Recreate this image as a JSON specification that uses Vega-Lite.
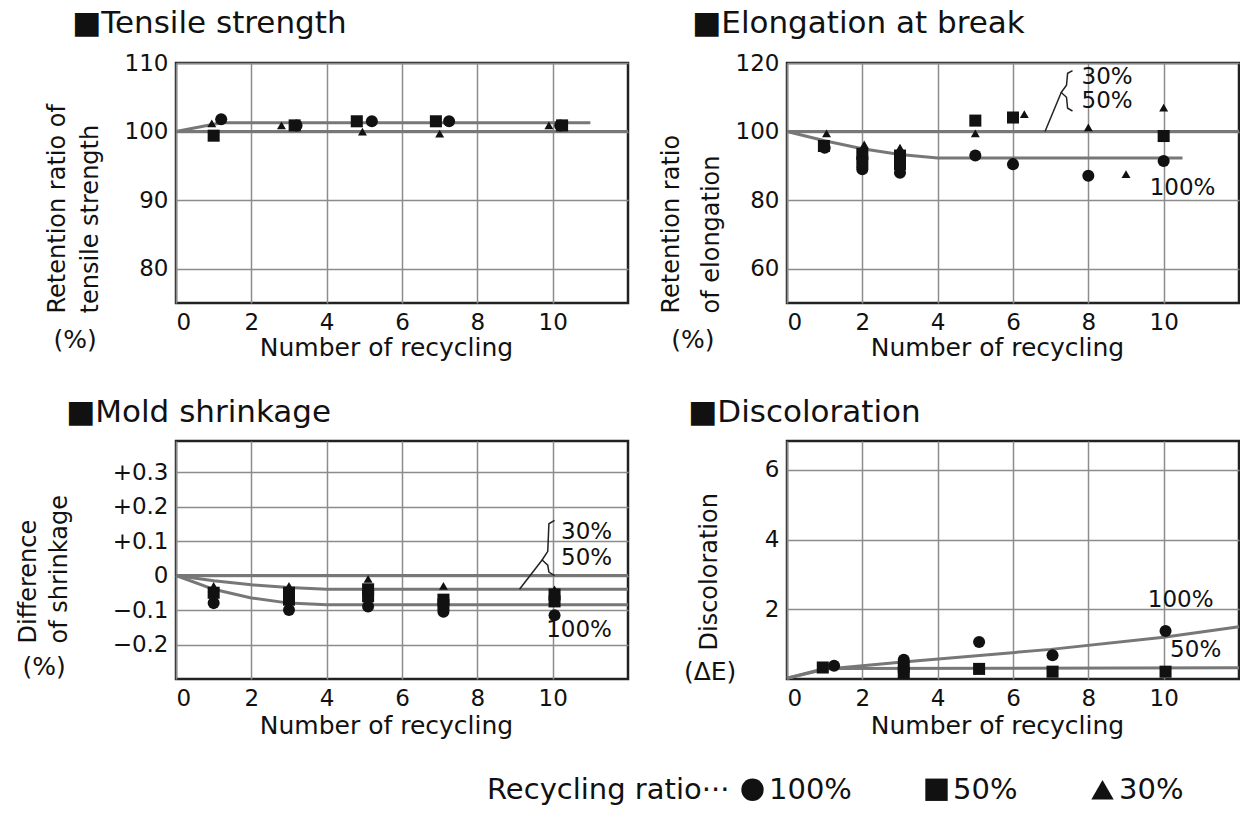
{
  "$schema": "https://vega.github.io/schema/vega-lite/v6.json",
  "padding": {"left": 14, "top": 6, "right": 0, "bottom": 4},
  "background": "white",
  "bounds": "flush",
  "spacing": 378,
  "resolve": {"scale": {"shape": "shared"}, "legend": {"shape": "shared"}},
  "config": {
    "font": "DejaVu Sans",
    "view": {"stroke": "#222", "strokeWidth": 2.5},
    "axis": {"grid": true, "gridColor": "#8c8c8c", "gridWidth": 1.5, "domain": false, "ticks": false, "labelFontSize": 23, "labelColor": "#111", "titleFontSize": 24, "titleFontWeight": "normal", "titleColor": "#111", "labelPadding": 8},
    "title": {"fontSize": 31, "fontWeight": "normal", "anchor": "start", "frame": "group", "color": "#111", "baseline": "alphabetic", "offset": 12},
    "legend": {"orient": "none", "legendX": 311, "legendY": 712, "direction": "horizontal", "titleOrient": "left", "titleFontSize": 29, "titleFontWeight": "normal", "titleLimit": 600, "labelLimit": 300, "labelFontSize": 29, "symbolSize": 500, "symbolFillColor": "#111", "symbolStrokeColor": "#111", "columnPadding": 70, "labelOffset": 2, "titlePadding": 8, "titleColor": "#111", "labelColor": "#111"}
  },
  "datasets": {
    "t_pts": [
      {"r": "100%", "x": 1.2, "y": 101.8}, {"r": "100%", "x": 3.2, "y": 100.9}, {"r": "100%", "x": 5.2, "y": 101.5}, {"r": "100%", "x": 7.25, "y": 101.5}, {"r": "100%", "x": 10.2, "y": 100.9},
      {"r": "50%", "x": 1.0, "y": 99.4}, {"r": "50%", "x": 3.15, "y": 100.9}, {"r": "50%", "x": 4.8, "y": 101.5}, {"r": "50%", "x": 6.9, "y": 101.5}, {"r": "50%", "x": 10.25, "y": 100.9},
      {"r": "30%", "x": 0.95, "y": 101.2}, {"r": "30%", "x": 2.8, "y": 100.9}, {"r": "30%", "x": 4.95, "y": 100.0}, {"r": "30%", "x": 7.0, "y": 99.7}, {"r": "30%", "x": 9.9, "y": 100.9}
    ],
    "t_lines": [
      {"s": "a", "o": 0, "x": 0, "y": 100}, {"s": "a", "o": 1, "x": 1.2, "y": 101.3}, {"s": "a", "o": 2, "x": 11, "y": 101.3},
      {"s": "b", "o": 0, "x": 0, "y": 100}, {"s": "b", "o": 1, "x": 12, "y": 100}
    ],
    "t_text": [{"x": -2.68, "y": 69.6, "t": "(%)"}],
    "e_pts": [
      {"r": "100%", "x": 1.0, "y": 95.3}, {"r": "100%", "x": 2.0, "y": 89.0}, {"r": "100%", "x": 3.0, "y": 88.0}, {"r": "100%", "x": 5.0, "y": 93.0}, {"r": "100%", "x": 6.0, "y": 90.5}, {"r": "100%", "x": 8.0, "y": 87.1}, {"r": "100%", "x": 10.0, "y": 91.4},
      {"r": "50%", "x": 0.98, "y": 95.8}, {"r": "50%", "x": 2.0, "y": 93.5}, {"r": "50%", "x": 2.0, "y": 91.0}, {"r": "50%", "x": 3.0, "y": 93.0}, {"r": "50%", "x": 3.0, "y": 90.5}, {"r": "50%", "x": 5.0, "y": 103.2}, {"r": "50%", "x": 6.0, "y": 104.1}, {"r": "50%", "x": 10.0, "y": 98.7},
      {"r": "30%", "x": 1.05, "y": 99.5}, {"r": "30%", "x": 2.05, "y": 96.3}, {"r": "30%", "x": 3.0, "y": 95.3}, {"r": "30%", "x": 5.0, "y": 99.5}, {"r": "30%", "x": 6.3, "y": 105.1}, {"r": "30%", "x": 8.0, "y": 101.2}, {"r": "30%", "x": 9.0, "y": 87.6}, {"r": "30%", "x": 10.0, "y": 107.0}
    ],
    "e_lines": [
      {"s": "a", "o": 0, "x": 0, "y": 100}, {"s": "a", "o": 1, "x": 12, "y": 100},
      {"s": "b", "o": 0, "x": 0, "y": 100}, {"s": "b", "o": 1, "x": 1, "y": 97.3}, {"s": "b", "o": 2, "x": 2, "y": 95}, {"s": "b", "o": 3, "x": 3, "y": 93.3}, {"s": "b", "o": 4, "x": 4, "y": 92.3}, {"s": "b", "o": 5, "x": 10.5, "y": 92.3}
    ],
    "e_ann": [
      {"s": "br", "o": 0, "x": 7.58, "y": 117.8}, {"s": "br", "o": 1, "x": 7.45, "y": 117}, {"s": "br", "o": 2, "x": 7.42, "y": 113.5}, {"s": "br", "o": 3, "x": 7.28, "y": 111.4}, {"s": "br", "o": 4, "x": 7.42, "y": 110}, {"s": "br", "o": 5, "x": 7.45, "y": 106.8}, {"s": "br", "o": 6, "x": 7.58, "y": 106},
      {"s": "ld", "o": 0, "x": 7.28, "y": 111.4}, {"s": "ld", "o": 1, "x": 6.85, "y": 100}
    ],
    "e_text": [{"x": 8.5, "y": 116.0, "t": "30%", "f": 23}, {"x": 8.5, "y": 108.8, "t": "50%", "f": 23}, {"x": 10.5, "y": 83.6, "t": "100%", "f": 23}, {"x": -2.5, "y": 39.2, "t": "(%)", "f": 25}],
    "s_pts": [
      {"r": "100%", "x": 1.0, "y": -0.08}, {"r": "100%", "x": 3.0, "y": -0.1}, {"r": "100%", "x": 5.1, "y": -0.09}, {"r": "100%", "x": 7.1, "y": -0.105}, {"r": "100%", "x": 10.05, "y": -0.115},
      {"r": "50%", "x": 1.0, "y": -0.05}, {"r": "50%", "x": 3.0, "y": -0.07}, {"r": "50%", "x": 3.0, "y": -0.05}, {"r": "50%", "x": 5.1, "y": -0.06}, {"r": "50%", "x": 5.1, "y": -0.04}, {"r": "50%", "x": 7.1, "y": -0.085}, {"r": "50%", "x": 7.1, "y": -0.07}, {"r": "50%", "x": 10.05, "y": -0.075}, {"r": "50%", "x": 10.05, "y": -0.055},
      {"r": "30%", "x": 1.0, "y": -0.03}, {"r": "30%", "x": 3.0, "y": -0.03}, {"r": "30%", "x": 5.1, "y": -0.01}, {"r": "30%", "x": 7.1, "y": -0.03}, {"r": "30%", "x": 10.05, "y": -0.04}
    ],
    "s_lines": [
      {"s": "z", "o": 0, "x": 0, "y": 0}, {"s": "z", "o": 1, "x": 12, "y": 0},
      {"s": "a", "o": 0, "x": 0, "y": 0}, {"s": "a", "o": 1, "x": 1, "y": -0.015}, {"s": "a", "o": 2, "x": 2, "y": -0.027}, {"s": "a", "o": 3, "x": 3, "y": -0.035}, {"s": "a", "o": 4, "x": 4, "y": -0.04}, {"s": "a", "o": 5, "x": 12, "y": -0.04},
      {"s": "b", "o": 0, "x": 0, "y": 0}, {"s": "b", "o": 1, "x": 1, "y": -0.04}, {"s": "b", "o": 2, "x": 2, "y": -0.065}, {"s": "b", "o": 3, "x": 3, "y": -0.08}, {"s": "b", "o": 4, "x": 4, "y": -0.085}, {"s": "b", "o": 5, "x": 12, "y": -0.085}
    ],
    "s_ann": [
      {"s": "br", "o": 0, "x": 10.05, "y": 0.16}, {"s": "br", "o": 1, "x": 9.9, "y": 0.15}, {"s": "br", "o": 2, "x": 9.87, "y": 0.07}, {"s": "br", "o": 3, "x": 9.72, "y": 0.045}, {"s": "br", "o": 4, "x": 9.87, "y": 0.03}, {"s": "br", "o": 5, "x": 9.9, "y": 0.01}, {"s": "br", "o": 6, "x": 10.05, "y": 0.0},
      {"s": "ld", "o": 0, "x": 9.72, "y": 0.045}, {"s": "ld", "o": 1, "x": 9.12, "y": -0.04}
    ],
    "s_text": [{"x": 10.9, "y": 0.125, "t": "30%", "f": 23}, {"x": 10.9, "y": 0.05, "t": "50%", "f": 23}, {"x": 10.7, "y": -0.157, "t": "100%", "f": 23}, {"x": -3.5, "y": -0.265, "t": "(%)", "f": 25}],
    "d_pts": [
      {"r": "100%", "x": 1.25, "y": 0.38}, {"r": "100%", "x": 3.1, "y": 0.55}, {"r": "100%", "x": 5.1, "y": 1.06}, {"r": "100%", "x": 7.05, "y": 0.68}, {"r": "100%", "x": 10.05, "y": 1.38},
      {"r": "50%", "x": 0.95, "y": 0.33}, {"r": "50%", "x": 3.1, "y": 0.35}, {"r": "50%", "x": 3.1, "y": 0.18}, {"r": "50%", "x": 5.1, "y": 0.29}, {"r": "50%", "x": 7.05, "y": 0.21}, {"r": "50%", "x": 10.05, "y": 0.21}
    ],
    "d_lines": [
      {"s": "a", "o": 0, "x": 0, "y": 0.02}, {"s": "a", "o": 1, "x": 1, "y": 0.28}, {"s": "a", "o": 2, "x": 3, "y": 0.48}, {"s": "a", "o": 3, "x": 7, "y": 0.85}, {"s": "a", "o": 4, "x": 10, "y": 1.2}, {"s": "a", "o": 5, "x": 12, "y": 1.5},
      {"s": "b", "o": 0, "x": 0, "y": 0.02}, {"s": "b", "o": 1, "x": 1, "y": 0.3}, {"s": "b", "o": 2, "x": 12, "y": 0.32}
    ],
    "d_text": [{"x": 10.45, "y": 2.27, "t": "100%", "f": 23}, {"x": 10.85, "y": 0.82, "t": "50%", "f": 23}, {"x": -2.04, "y": 0.2, "t": "(ΔE)", "f": 25}]
  },
  "vconcat": [
    {
      "bounds": "flush",
      "spacing": 159,
      "resolve": {"scale": {"shape": "shared"}},
      "hconcat": [
        {
          "width": 452, "height": 240,
          "title": {"text": "■Tensile strength", "dx": -104},
          "encoding": {
            "x": {"field": "x", "type": "quantitative", "scale": {"domain": [0, 12], "nice": false, "zero": false}, "axis": {"values": [0, 2, 4, 6, 8, 10], "title": "Number of recycling", "titleFontSize": 25, "titleX": 210, "titleY": 44, "titleBaseline": "middle", "titleAlign": "center"}},
            "y": {"field": "y", "type": "quantitative", "scale": {"domain": [75, 110], "nice": false, "zero": false}, "axis": {"values": [80, 90, 100, 110], "title": ["Retention ratio of", "tensile strength"], "titleAngle": -90, "titleAlign": "left", "titleBaseline": "top", "titleX": -131, "titleY": 250, "titleLineHeight": 33}}
          },
          "layer": [
            {"data": {"name": "t_lines"}, "mark": {"type": "line", "color": "#777", "strokeWidth": 3}, "encoding": {"detail": {"field": "s"}, "order": {"field": "o"}}},
            {"data": {"name": "t_pts"}, "mark": {"type": "point", "filled": true, "opacity": 1, "color": "#111"}, "encoding": {
              "shape": {"field": "r", "type": "nominal", "title": "Recycling ratio···", "scale": {"domain": ["100%", "50%", "30%"], "range": ["circle", "square", "triangle-up"]}},
              "size": {"condition": {"test": "datum.r === '30%'", "value": 80}, "value": 145}}},
            {"data": {"name": "t_text"}, "mark": {"type": "text", "fontSize": 25, "color": "#111"}, "encoding": {"text": {"field": "t"}}}
          ]
        },
        {
          "width": 452, "height": 240,
          "title": {"text": "■Elongation at break", "dx": -95},
          "encoding": {
            "x": {"field": "x", "type": "quantitative", "scale": {"domain": [0, 12], "nice": false, "zero": false}, "axis": {"values": [0, 2, 4, 6, 8, 10], "title": "Number of recycling", "titleFontSize": 25, "titleX": 210, "titleY": 44, "titleBaseline": "middle", "titleAlign": "center"}},
            "y": {"field": "y", "type": "quantitative", "scale": {"domain": [50, 120], "nice": false, "zero": false}, "axis": {"values": [60, 80, 100, 120], "title": ["Retention ratio", "of elongation"], "titleAngle": -90, "titleAlign": "left", "titleBaseline": "top", "titleX": -128, "titleY": 250, "titleLineHeight": 40}}
          },
          "layer": [
            {"data": {"name": "e_lines"}, "mark": {"type": "line", "color": "#777", "strokeWidth": 3}, "encoding": {"detail": {"field": "s"}, "order": {"field": "o"}}},
            {"data": {"name": "e_ann"}, "mark": {"type": "line", "color": "#222", "strokeWidth": 1.5}, "encoding": {"detail": {"field": "s"}, "order": {"field": "o"}}},
            {"data": {"name": "e_pts"}, "mark": {"type": "point", "filled": true, "opacity": 1, "color": "#111"}, "encoding": {
              "shape": {"field": "r", "type": "nominal", "title": "Recycling ratio···", "scale": {"domain": ["100%", "50%", "30%"], "range": ["circle", "square", "triangle-up"]}},
              "size": {"condition": {"test": "datum.r === '30%'", "value": 80}, "value": 145}}},
            {"data": {"name": "e_text"}, "mark": {"type": "text", "color": "#111"}, "encoding": {"text": {"field": "t"}, "size": {"field": "f", "type": "quantitative", "scale": null}}}
          ]
        }
      ]
    },
    {
      "bounds": "flush",
      "spacing": 159,
      "resolve": {"scale": {"shape": "shared"}},
      "hconcat": [
        {
          "width": 452, "height": 238,
          "title": {"text": "■Mold shrinkage", "dx": -110},
          "encoding": {
            "x": {"field": "x", "type": "quantitative", "scale": {"domain": [0, 12], "nice": false, "zero": false}, "axis": {"values": [0, 2, 4, 6, 8, 10], "title": "Number of recycling", "titleFontSize": 25, "titleX": 210, "titleY": 46, "titleBaseline": "middle", "titleAlign": "center"}},
            "y": {"field": "y", "type": "quantitative", "scale": {"domain": [-0.3, 0.39], "nice": false, "zero": false}, "axis": {"values": [-0.2, -0.1, 0, 0.1, 0.2, 0.3], "labelExpr": "datum.value > 0.001 ? '+' + format(datum.value, '.1f') : (datum.value < -0.001 ? '−' + format(-datum.value, '.1f') : '0')", "title": ["Difference", "of shrinkage"], "titleAngle": -90, "titleAlign": "left", "titleBaseline": "top", "titleX": -160, "titleY": 202, "titleLineHeight": 31}}
          },
          "layer": [
            {"data": {"name": "s_lines"}, "mark": {"type": "line", "color": "#777", "strokeWidth": 3}, "encoding": {"detail": {"field": "s"}, "order": {"field": "o"}}},
            {"data": {"name": "s_ann"}, "mark": {"type": "line", "color": "#222", "strokeWidth": 1.5}, "encoding": {"detail": {"field": "s"}, "order": {"field": "o"}}},
            {"data": {"name": "s_pts"}, "mark": {"type": "point", "filled": true, "opacity": 1, "color": "#111"}, "encoding": {
              "shape": {"field": "r", "type": "nominal", "title": "Recycling ratio···", "scale": {"domain": ["100%", "50%", "30%"], "range": ["circle", "square", "triangle-up"]}},
              "size": {"condition": {"test": "datum.r === '30%'", "value": 80}, "value": 145}}},
            {"data": {"name": "s_text"}, "mark": {"type": "text", "color": "#111"}, "encoding": {"text": {"field": "t"}, "size": {"field": "f", "type": "quantitative", "scale": null}}}
          ]
        },
        {
          "width": 452, "height": 238,
          "title": {"text": "■Discoloration", "dx": -99},
          "encoding": {
            "x": {"field": "x", "type": "quantitative", "scale": {"domain": [0, 12], "nice": false, "zero": false}, "axis": {"values": [0, 2, 4, 6, 8, 10], "title": "Number of recycling", "titleFontSize": 25, "titleX": 210, "titleY": 46, "titleBaseline": "middle", "titleAlign": "center"}},
            "y": {"field": "y", "type": "quantitative", "scale": {"domain": [0, 6.83], "nice": false, "zero": false}, "axis": {"values": [2, 4, 6], "title": "Discoloration", "titleAngle": -90, "titleAlign": "left", "titleBaseline": "top", "titleX": -90, "titleY": 209}}
          },
          "layer": [
            {"data": {"name": "d_lines"}, "mark": {"type": "line", "color": "#777", "strokeWidth": 3}, "encoding": {"detail": {"field": "s"}, "order": {"field": "o"}}},
            {"data": {"name": "d_pts"}, "mark": {"type": "point", "filled": true, "opacity": 1, "color": "#111"}, "encoding": {
              "shape": {"field": "r", "type": "nominal", "title": "Recycling ratio···", "scale": {"domain": ["100%", "50%", "30%"], "range": ["circle", "square", "triangle-up"]}},
              "size": {"condition": {"test": "datum.r === '30%'", "value": 80}, "value": 145}}},
            {"data": {"name": "d_text"}, "mark": {"type": "text", "color": "#111"}, "encoding": {"text": {"field": "t"}, "size": {"field": "f", "type": "quantitative", "scale": null}}}
          ]
        }
      ]
    }
  ]
}
